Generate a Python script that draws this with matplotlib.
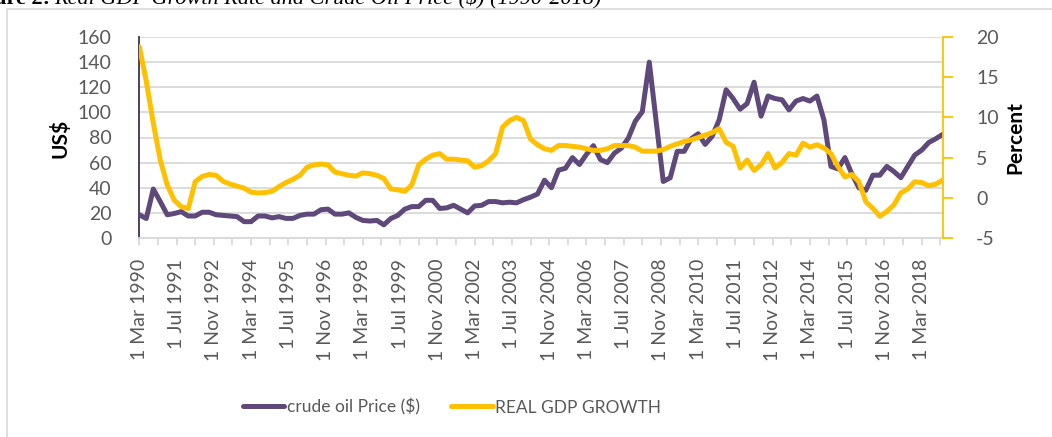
import matplotlib.pyplot as plt
import numpy as np
from matplotlib.patches import Rectangle

plt.rcParams['font.family'] = ['Lato', 'DejaVu Sans']
plt.rcParams['axes.unicode_minus'] = False

# quarterly data, 1 Mar 1990 .. 1 Dec 2018
oil_price = [18.5, 15.5, 39, 29, 18.5, 19.5, 21, 17.5, 17.5, 20.5,
             20.5, 18.5, 18, 17.5, 17, 13, 13, 17.5, 17.5, 16,
             17, 15.6, 15.6, 18, 19, 19, 22.5, 23, 19, 19,
             20, 16.4, 14, 13.5, 14, 10.5, 15.5, 18, 23, 25,
             25, 30, 30, 23.5, 24, 26, 23, 20, 25.5, 26,
             29, 29, 28, 28.5, 28, 30.5, 32.5, 35, 46, 40,
             54, 55.5, 64, 58.5, 66.5, 73.5, 62.5, 60, 67.5, 71.5,
             79.5, 93, 100.5, 140, 92, 45, 48, 69, 69, 79,
             83, 74.5, 81, 94, 118, 111, 102.5, 107, 124, 97,
             113, 111, 110, 102, 109, 111, 109, 113, 94, 57,
             55, 64, 51, 40, 38, 50, 50, 57, 53, 48,
             57, 66, 70, 76, 79, 82.5]

gdp_growth = [18.8, 14.5, 9.3, 4.7, 1.6, -0.3, -1.1, -1.35, 2.0, 2.65,
              2.9, 2.8, 2.05, 1.7, 1.45, 1.2, 0.7, 0.6, 0.65, 0.8,
              1.4, 1.9, 2.3, 2.8, 3.8, 4.1, 4.2, 4.1, 3.2, 3.0,
              2.8, 2.7, 3.1, 3.0, 2.8, 2.4, 1.1, 1.0, 0.8, 1.6,
              4.1, 4.8, 5.3, 5.5, 4.8, 4.8, 4.7, 4.6, 3.8, 4.0,
              4.6, 5.5, 8.8, 9.6, 10.0, 9.6, 7.3, 6.6, 6.1, 5.9,
              6.5, 6.5, 6.4, 6.3, 6.1, 5.9, 5.9, 6.1, 6.5, 6.5,
              6.5, 6.3, 5.8, 5.8, 5.8, 6.0, 6.4, 6.7, 7.0, 7.2,
              7.5, 7.8, 8.1, 8.6, 6.9, 6.4, 3.7, 4.7, 3.4, 4.1,
              5.5, 3.7, 4.4, 5.5, 5.3, 6.8, 6.3, 6.6, 6.2, 5.5,
              3.9, 2.6, 2.9, 2.0, -0.5, -1.3, -2.3, -1.7, -0.9, 0.6,
              1.1, 2.0, 1.9, 1.5, 1.7, 2.2]

month_names = ['Jan', 'Feb', 'Mar', 'Apr', 'May', 'Jun',
               'Jul', 'Aug', 'Sep', 'Oct', 'Nov', 'Dec']
start_year = 1990
start_month = 3

# months since 1 Mar 1990
x = np.arange(len(oil_price)) * 3


def date_label(m):
    idx = start_month - 1 + m
    return '1 %s %d' % (month_names[idx % 12], start_year + idx // 12)


purple = '#5f497a'
yellow = '#ffc000'
grey_text = '#595959'
grid_col = '#d9d9d9'

fig = plt.figure(figsize=(10.52, 4.37), dpi=100)

# chart frame
fig.patches.append(Rectangle((7 / 1052, -0.1), 1.2, 1.1 - 9 / 437, transform=fig.transFigure,
                             fill=False, edgecolor=grid_col, lw=1.2))

# caption above the chart (cut off at the top, as in the source)
fig.text(50 / 1052, 1 - 4 / 437, 'Figure 2:', ha='right', va='baseline', fontsize=16,
         family='Liberation Serif', fontweight='bold')
fig.text(54 / 1052, 1 - 4 / 437, 'Real GDP Growth Rate and Crude Oil Price ($) (1990-2018)',
         ha='left', va='baseline', fontsize=16, family='Liberation Serif', style='italic')

ax1 = fig.add_axes([139.3 / 1052, 1 - 238 / 437, (942.7 - 139.3) / 1052, 201 / 437])
l1, = ax1.plot(x, oil_price, color=purple, lw=3.6, solid_joinstyle='round',
               solid_capstyle='round', label='crude oil Price ($)', zorder=3)
ax1.set_xlim(0, 345)
ax1.set_ylim(0, 160)
ax1.set_yticks(np.arange(0, 161, 20))
ax1.grid(axis='y', color=grid_col, lw=1.3)
ax1.set_axisbelow(True)

xt = np.arange(0, 346, 8)
ax1.set_xticks(xt)
ax1.set_xticklabels([date_label(m) if m % 16 == 0 else '' for m in xt],
                    rotation=90, va='top', ha='center')
ax1.tick_params(axis='x', length=5, width=1.3, color=grid_col, pad=10,
                labelsize=14, labelcolor=grey_text)
ax1.tick_params(axis='y', length=0, pad=20, labelsize=14, labelcolor=grey_text)
for s in ['top', 'right']:
    ax1.spines[s].set_visible(False)
ax1.spines['left'].set_color('#3f3151')
ax1.spines['left'].set_linewidth(1.3)
ax1.spines['bottom'].set_color(grid_col)
ax1.spines['bottom'].set_linewidth(1.3)

ax2 = ax1.twinx()
l2, = ax2.plot(x, gdp_growth, color=yellow, lw=3.6, solid_joinstyle='round',
               solid_capstyle='round', label='REAL GDP GROWTH', zorder=3)
ax2.set_ylim(-5, 20)
ax2.set_yticks(np.arange(-5, 21, 5))
ax2.tick_params(axis='y', length=7, width=1.3, color=yellow, pad=17,
                labelsize=14, labelcolor=grey_text)
for s in ['top', 'left', 'bottom']:
    ax2.spines[s].set_visible(False)
ax2.spines['right'].set_color(yellow)
ax2.spines['right'].set_linewidth(1.3)

fig.text(60 / 1052, 1 - 138 / 437, 'US$', rotation=90, ha='center', va='center',
         fontsize=15, fontweight='bold')
fig.text(1015 / 1052, 1 - 138 / 437, 'Percent', rotation=90, ha='center', va='center',
         fontsize=15, fontweight='bold')

fig.legend([l1, l2], [l1.get_label(), l2.get_label()], loc='center',
           bbox_to_anchor=(452 / 1052, 1 - 407 / 437), ncol=2, frameon=False,
           fontsize=12.5, labelcolor=grey_text, handlelength=2.4, handletextpad=0.15,
           columnspacing=1.8)

fig.savefig('out.png', dpi=100)
